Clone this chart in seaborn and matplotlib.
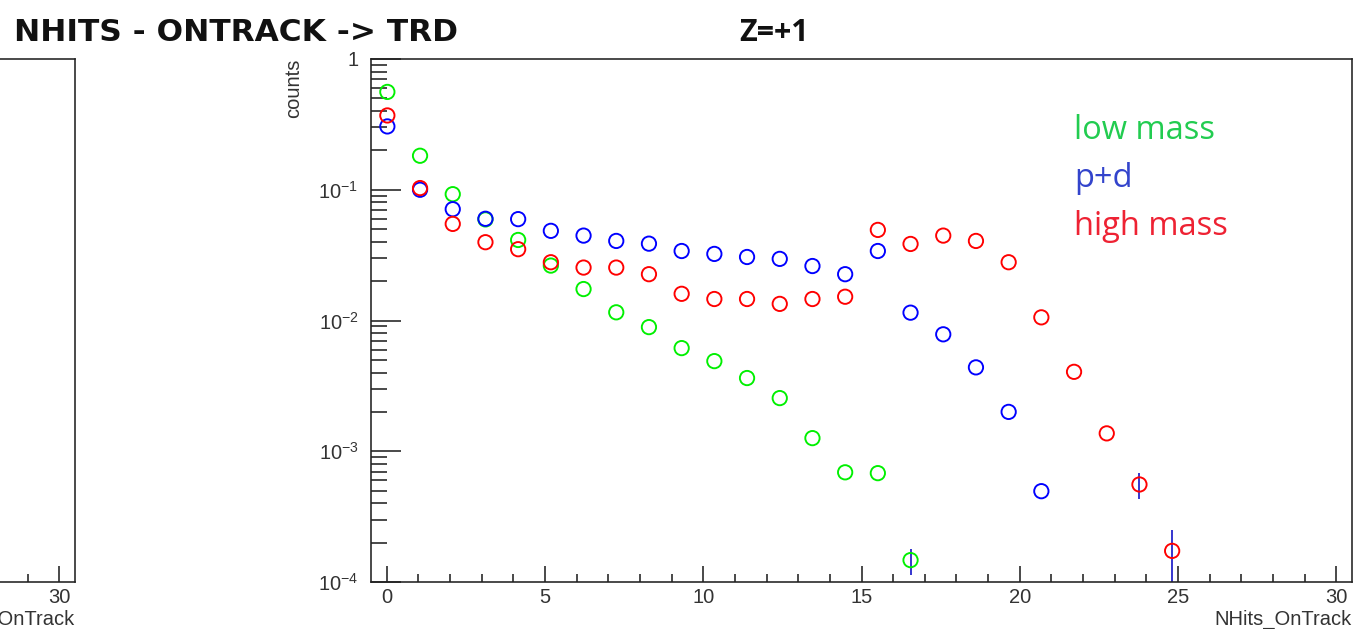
import numpy as np
import pandas as pd
import matplotlib
matplotlib.use("Agg")
import matplotlib.pyplot as plt
import matplotlib.ticker as mticker
import seaborn as sns

# ---- data: normalised NHits_OnTrack distributions, Z=+1 ----
n_bins = 30
x_lo, x_hi = -0.5, 30.5

low_mass = [0.56, 0.182, 0.0925, 0.0593, 0.0413, 0.0263, 0.0174, 0.01155, 0.0089,
            0.00615, 0.00489, 0.00363, 0.00255, 0.00126, 0.00069, 0.00068, 0.000147]
p_plus_d = [0.305, 0.100, 0.071, 0.060, 0.0596, 0.0485, 0.0446, 0.0406, 0.0387,
            0.034, 0.0323, 0.0306, 0.0296, 0.0261, 0.0226, 0.034, 0.01148, 0.00784,
            0.00438, 0.0020, 0.000495]
high_mass = [0.37, 0.103, 0.0548, 0.0397, 0.0351, 0.0279, 0.0254, 0.0254, 0.0226,
             0.0160, 0.0146, 0.0146, 0.0134, 0.0146, 0.0152, 0.0493, 0.0385, 0.0446,
             0.0406, 0.0279, 0.01057, 0.00405, 0.00137, 0.000557, 0.000173]

# statistical errors (only the tail bins are large enough to show)
low_mass_err = [0.0] * 16 + [0.000033]
p_plus_d_err = [0.0] * 21
high_mass_err = [0.0] * 23 + [0.000125, 0.000075]

series_names = ["low mass", "p+d", "high mass"]
series_values = [low_mass, p_plus_d, high_mass]
series_errors = [low_mass_err, p_plus_d_err, high_mass_err]
series_colors = ["#00f000", "#0000ff", "#ff0000"]
label_colors = ["#22cc50", "#3344cc", "#ee2233"]

y_ticks = [1e-4, 1e-3, 1e-2, 1e-1, 1]
y_ticklabels = [r"$10^{-4}$", r"$10^{-3}$", r"$10^{-2}$", r"$10^{-1}$", "1"]
x_ticks = [0, 5, 10, 15, 20, 25, 30]

bin_width = (x_hi - x_lo) / n_bins
edges = x_lo + bin_width * np.arange(n_bins + 1)
centers = 0.5 * (edges[:-1] + edges[1:])

rows = []
for name, vals, errs in zip(series_names, series_values, series_errors):
    for i, (v, e) in enumerate(zip(vals, errs)):
        rows.append({"series": name, "nhits": centers[i], "counts": v, "err": e})
df = pd.DataFrame(rows)

# ---- style ----
sns.set_style("white")
plt.rcParams["font.family"] = ["Liberation Sans", "DejaVu Sans"]
plt.rcParams["mathtext.fontset"] = "custom"
plt.rcParams["mathtext.rm"] = "Liberation Sans"
plt.rcParams["mathtext.it"] = "Liberation Sans"

W, H = 1353, 629
dpi = 100
fig = plt.figure(figsize=(W / dpi, H / dpi), dpi=dpi)
px = 72.0 / dpi  # points per pixel
ink = "#222222"
label_ink = "#333333"


def frame(left, right, top, bottom):
    return [left / W, (H - bottom) / H, (right - left) / W, (bottom - top) / H]


def style_axes(ax):
    ax.set_yscale("log")
    ax.set_xlim(x_lo, x_hi)
    ax.set_ylim(1e-4, 1)
    for sp in ax.spines.values():
        sp.set_color(ink)
        sp.set_linewidth(1.6 * px)
    ax.set_xticks(x_ticks)
    ax.xaxis.set_minor_locator(mticker.MultipleLocator(1))
    ax.set_yticks(y_ticks)
    ax.set_yticklabels(y_ticklabels)
    ax.yaxis.set_minor_locator(mticker.LogLocator(base=10, subs=np.arange(2, 10), numticks=20))
    ax.yaxis.set_minor_formatter(mticker.NullFormatter())
    ax.tick_params(axis="x", which="major", direction="in", length=16 * px, width=1.6 * px,
                   color=ink, labelsize=14.5, pad=4, bottom=True, top=False,
                   labelcolor=label_ink)
    ax.tick_params(axis="x", which="minor", direction="in", length=8 * px, width=1.6 * px,
                   color=ink, bottom=True, top=False)
    ax.tick_params(axis="y", which="major", direction="in", length=30 * px, width=1.6 * px,
                   color=ink, labelsize=14.5, pad=9, left=True, right=False,
                   labelcolor=label_ink)
    ax.tick_params(axis="y", which="minor", direction="in", length=16 * px, width=1.6 * px,
                   color=ink, left=True, right=False)
    ax.grid(False)


# neighbouring pad (only its right end is in view)
ax_left = fig.add_axes(frame(-906, 75, 59, 582))
style_axes(ax_left)
ax_left.set_xlabel("NHits_OnTrack", fontsize=14.5, color=label_ink, loc="right", labelpad=2)

# main pad
ax = fig.add_axes(frame(371, 1352, 59, 582))
style_axes(ax)

for name, col in zip(series_names, series_colors):
    sub = df[df["series"] == name]
    ax.errorbar(sub["nhits"], sub["counts"], yerr=sub["err"], fmt="none",
                ecolor="#3a3ad0", elinewidth=2.0 * px, capsize=0, zorder=2)
    sns.scatterplot(data=sub, x="nhits", y="counts", ax=ax, marker="o",
                    s=(10.3) ** 2, facecolor="none", edgecolor=col,
                    linewidth=1.9 * px, zorder=3, legend=False)
ax.set_xlabel("NHits_OnTrack", fontsize=14.5, color=label_ink, loc="right", labelpad=2)
ax.set_ylabel("counts", fontsize=14.5, color=label_ink, loc="top", labelpad=11)

# series labels
for k, (name, col) in enumerate(zip(series_names, label_colors)):
    fig.text(1074 / W, 1 - (139 + 48 * k) / H, name, color=col, fontsize=23.5,
             family="Open Sans", ha="left", va="baseline")

fig.text(14 / W, 1 - 41 / H, "NHITS - ONTRACK -> TRD", fontsize=22.5,
         family="DejaVu Sans", weight="bold", ha="left", va="baseline", color="#111111")
fig.text(774 / W, 1 - 41 / H, "Z=+1", fontsize=22,
         family="Open Sans", weight="bold", ha="center", va="baseline", color="#111111")

fig.savefig("out.png", dpi=dpi)
